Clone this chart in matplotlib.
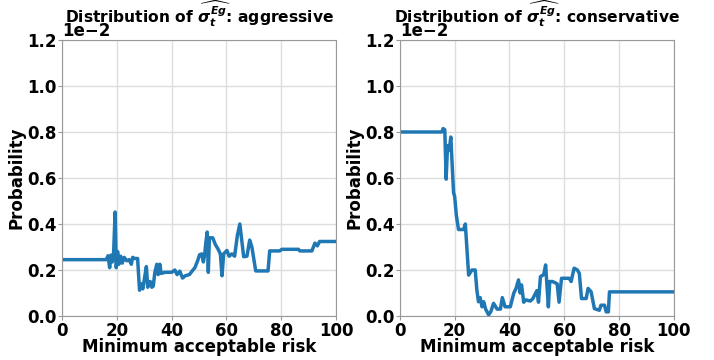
import matplotlib
matplotlib.use("Agg")
import matplotlib.pyplot as plt

BLUE = "#1f77b4"

# values, y in units of 1e-2
agg_risk = [0, 15.5, 16.2, 16.8, 17.4, 17.9, 18.4, 18.8, 19.4, 19.8, 20.3, 20.8,
            21.4, 22, 22.7, 23.6, 24.5, 25.3, 25.8, 26.5, 27.6, 28.3, 28.9, 29.5,
            30.3, 30.8, 31.3, 32.2, 32.8, 33.3, 33.9, 34.6, 35.1, 35.7, 36.2, 37.5,
            40.0, 41.2, 42, 43, 44, 45, 46.5, 47.8, 48.5, 49.5, 50.2, 51, 51.6, 52.1,
            52.5, 53.0, 53.4, 53.8, 55, 56, 57, 57.8, 58.4, 59, 60.2, 61, 62, 63,
            64.0, 64.9, 65.6, 66.3, 67.5, 68.5, 69.3, 70.7, 75.2, 75.8, 79.5, 80.2,
            86.3, 86.8, 91.2, 92.3, 93.2, 94, 100]
agg_prob = [0.245, 0.245, 0.245, 0.262, 0.21, 0.265, 0.235, 0.26, 0.452, 0.21, 0.28, 0.225,
            0.26, 0.23, 0.255, 0.24, 0.245, 0.225, 0.255, 0.25, 0.25, 0.112, 0.14, 0.118,
            0.178, 0.215, 0.125, 0.15, 0.125, 0.13, 0.19, 0.225, 0.18, 0.225, 0.185, 0.19,
            0.19, 0.2, 0.18, 0.195, 0.165, 0.175, 0.18, 0.2, 0.21, 0.24, 0.266, 0.27, 0.235, 0.27,
            0.32, 0.365, 0.19, 0.34, 0.34, 0.31, 0.29, 0.27, 0.175, 0.27, 0.285, 0.26, 0.27, 0.26,
            0.35, 0.4, 0.33, 0.258, 0.26, 0.33, 0.3, 0.196, 0.196, 0.283, 0.283, 0.29,
            0.29, 0.283, 0.283, 0.317, 0.305, 0.324, 0.324]

con_risk = [0, 15.3, 15.8, 16.4, 16.9, 17.4, 18, 18.6, 19.6, 20, 20.6, 21.4, 23.3, 23.9,
            25.1, 26.3, 27.5, 28.1, 28.7, 29.3, 30, 30.6, 31.3, 32.4, 33.2, 34.2, 35.5,
            36.7, 37.4, 38.4, 40.3, 41.6, 42.4, 43.3, 43.9, 44.4, 45.2, 46, 47.6, 48.5,
            50, 50.6, 51.3, 52.5, 53.2, 54.2, 54.7, 55.7, 57.4, 58.1, 59, 61.8, 62.5,
            63.6, 64.8, 65.5, 66.3, 68, 68.7, 69.8, 71, 72.8, 73.4, 74.7, 75.3, 76.1,
            76.5, 100]
con_prob = [0.8, 0.8, 0.815, 0.81, 0.595, 0.741, 0.72, 0.778, 0.537, 0.52, 0.44, 0.376, 0.376, 0.4,
            0.178, 0.2, 0.2, 0.113, 0.062, 0.08, 0.04, 0.062, 0.03, 0.005, 0.019, 0.055, 0.03,
            0.03, 0.08, 0.04, 0.04, 0.1, 0.12, 0.157, 0.1, 0.135, 0.06, 0.07, 0.065, 0.075,
            0.11, 0.06, 0.171, 0.18, 0.222, 0.04, 0.15, 0.15, 0.14, 0.06, 0.164, 0.164, 0.15,
            0.208, 0.2, 0.185, 0.076, 0.076, 0.12, 0.105, 0.032, 0.025, 0.047, 0.047, 0.018, 0.018,
            0.105, 0.105]

panels = [
    ("aggressive", agg_risk, agg_prob),
    ("conservative", con_risk, con_prob),
]

plt.rcParams.update({
    "font.family": "DejaVu Sans",
    "font.weight": "bold",
    "font.size": 12,
    "axes.labelweight": "bold",
    "axes.titleweight": "bold",
    "mathtext.fontset": "custom",
    "mathtext.rm": "DejaVu Sans:bold",
    "mathtext.it": "DejaVu Sans:italic:bold",
    "mathtext.bf": "DejaVu Sans:bold",
})

fig = plt.figure(figsize=(7.14, 3.6), dpi=100)
lefts = [0.0868, 0.560]
for left, (name, risk, prob) in zip(lefts, panels):
    ax = fig.add_axes([left, 0.1222, 0.3838, 0.7667])
    ax.plot(risk, [p * 1e-2 for p in prob], color=BLUE, linewidth=2.5)
    ax.set_xlim(0, 100)
    ax.set_ylim(0, 0.012)
    ax.set_xticks([0, 20, 40, 60, 80, 100])
    ax.set_yticks([0, 0.002, 0.004, 0.006, 0.008, 0.010, 0.012])
    ax.ticklabel_format(style="sci", axis="y", scilimits=(0, 0))
    ax.yaxis.get_offset_text().set_fontsize(12)
    ax.grid(True, color="#dddddd", linewidth=1.0)
    ax.set_axisbelow(True)
    for s in ax.spines.values():
        s.set_color("#999999")
    ax.tick_params(length=3, color="#999999", pad=1)
    ax.set_xlabel("Minimum acceptable risk", labelpad=-1)
    ax.set_ylabel("Probability", labelpad=1)
    ax.set_title(r"Distribution of $\widehat{\sigma_t^{Eg}}$: " + name,
                 fontsize=11.2, y=1.062, pad=0)

fig.savefig("out.png", dpi=100)
